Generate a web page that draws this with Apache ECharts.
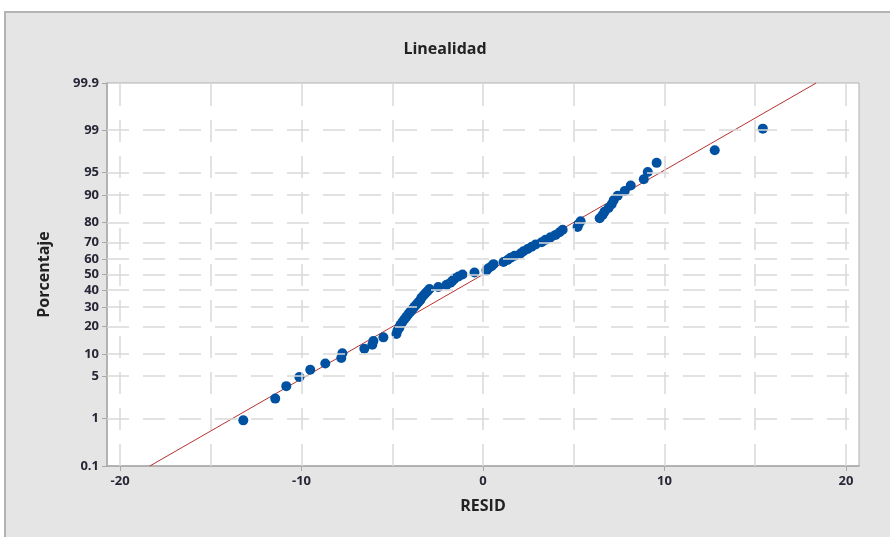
<!DOCTYPE html>
<html><head><meta charset="utf-8">
<script src="https://cdn.jsdelivr.net/npm/echarts@6/dist/echarts.min.js"></script>
<style>html,body{margin:0;padding:0;background:#fff}#c{width:890px;height:537px}</style>
</head><body><div id="c"></div>
<script>
// Residuals (sorted)
const resid = [-13.21,-11.45,-10.84,-10.12,-9.52,-8.69,-7.81,-7.75,-6.54,-6.10,
  -6.04,-5.49,-4.77,-4.72,-4.61,-4.55,-4.44,-4.33,-4.22,-4.11,
  -4.00,-3.89,-3.78,-3.67,-3.56,-3.45,-3.39,-3.28,-3.17,-3.06,
  -2.95,-2.46,-2.01,-1.79,-1.68,-1.57,-1.35,-1.13,-0.47,0.19,
  0.30,0.47,0.58,1.13,1.35,1.52,1.74,2.07,2.23,2.46,
  2.68,2.90,3.23,3.45,3.72,4.00,4.22,4.39,5.21,5.27,
  5.38,6.43,6.59,6.70,6.92,7.09,7.20,7.42,7.81,8.14,
  8.86,9.08,9.57,12.77,15.42];
// Percentages (plotting positions) of each point
const percent = [0.93,2.26,3.58,4.91,6.23,7.56,8.89,10.21,11.54,12.86,
  14.19,15.52,16.84,18.17,19.50,20.82,22.15,23.47,24.80,26.13,
  27.45,28.78,30.11,31.43,32.76,34.08,35.41,36.74,38.06,39.39,
  40.72,42.04,43.37,44.69,46.02,47.35,48.67,50.00,51.33,52.65,
  53.98,55.31,56.63,57.96,59.28,60.61,61.94,63.26,64.59,65.92,
  67.24,68.57,69.89,71.22,72.55,73.87,75.20,76.53,77.85,79.18,
  80.50,81.83,83.16,84.48,85.81,87.14,88.46,89.79,91.11,92.44,
  93.77,95.09,96.42,97.75,99.07];
const yTickLabels = [0.1,1,5,10,20,30,40,50,60,70,80,90,95,99,99.9];
const yGridPercents = [1,5,10,20,30,40,50,60,70,80,90,95,99];
const xTickLabels = [-20,-10,0,10,20];
const xGridValues = [-20,-15,-10,-5,0,5,10,15,20];
const fitResid = [-18.36, 18.36];
const fitPercent = [0.1, 99.9];

// probability scale: percent -> normal quantile
function probit(pct){
  const p = pct/100;
  const a=[-3.969683028665376e+01,2.209460984245205e+02,-2.759285104469687e+02,1.383577518672690e+02,-3.066479806614716e+01,2.506628277459239e+00];
  const b=[-5.447609879822406e+01,1.615858368580409e+02,-1.556989798598866e+02,6.680131188771972e+01,-1.328068155288572e+01];
  const c=[-7.784894002430293e-03,-3.223964580411365e-01,-2.400758277161838e+00,-2.549732539343734e+00,4.374664141464968e+00,2.938163982698783e+00];
  const d=[7.784695709041462e-03,3.224671290700398e-01,2.445134137142996e+00,3.754408661907416e+00];
  const pl=0.02425, ph=1-pl; let q,r;
  if(p<pl){q=Math.sqrt(-2*Math.log(p));return (((((c[0]*q+c[1])*q+c[2])*q+c[3])*q+c[4])*q+c[5])/((((d[0]*q+d[1])*q+d[2])*q+d[3])*q+1);}
  if(p<=ph){q=p-0.5;r=q*q;return (((((a[0]*r+a[1])*r+a[2])*r+a[3])*r+a[4])*r+a[5])*q/(((((b[0]*r+b[1])*r+b[2])*r+b[3])*r+b[4])*r+1);}
  q=Math.sqrt(-2*Math.log(1-p));return -(((((c[0]*q+c[1])*q+c[2])*q+c[3])*q+c[4])*q+c[5])/((((d[0]*q+d[1])*q+d[2])*q+d[3])*q+1);
}
const yTickZ = yTickLabels.map(probit);
function yLabel(v){
  let best=0,bd=1e9;
  yTickZ.forEach((z,i)=>{const dd=Math.abs(z-v); if(dd<bd){bd=dd;best=i;}});
  return String(yTickLabels[best]);
}
const zMin = probit(0.1), zMax = probit(99.9);
const font = '"Open Sans", "Noto Sans", sans-serif';
const labColor = '#262636';

const chart = echarts.init(document.getElementById('c'), null, {renderer:'canvas'});
chart.setOption({
  animation:false,
  backgroundColor:'#ffffff',
  graphic:[{type:'rect', z:-10, silent:true,
    shape:{x:5,y:12,width:900,height:540},
    style:{fill:'#e5e5e5', stroke:'#b3b3b3', lineWidth:2}}],
  title:{text:'Linealidad', left:'center', top:36,
    textStyle:{fontFamily:font, fontSize:16, fontWeight:'bold', color:'#222'}},
  grid:{left:107, right:31, top:83, bottom:71, show:true, backgroundColor:'#ffffff', borderColor:'#b0b0b0', borderWidth:1},
  xAxis:{type:'value', min:-20.72, max:20.72,
    name:'RESID', nameLocation:'middle', nameGap:32,
    nameTextStyle:{fontFamily:font, fontSize:16, fontWeight:'bold', color:'#222'},
    axisLine:{onZero:false, lineStyle:{color:'#a8a8a8', width:1.5}},
    axisTick:{customValues:xTickLabels, length:5, lineStyle:{color:'#a8a8a8'}},
    axisLabel:{customValues:xTickLabels, margin:9, fontFamily:font, fontSize:13, fontWeight:'bold', color:labColor},
    splitLine:{show:false}},
  yAxis:{type:'value', min:zMin, max:zMax,
    name:'Porcentaje', nameLocation:'middle', nameGap:55, nameRotate:90,
    nameTextStyle:{fontFamily:font, fontSize:16, fontWeight:'bold', color:'#222'},
    axisLine:{onZero:false, lineStyle:{color:'#a8a8a8', width:1.5}},
    axisTick:{customValues:yTickZ, length:5, lineStyle:{color:'#a8a8a8'}},
    axisLabel:{customValues:yTickZ, margin:8, formatter:yLabel, fontFamily:font, fontSize:13, fontWeight:'bold', color:labColor},
    splitLine:{show:false}},
  series:[
    {type:'line', data:[], silent:true, z:1,
      markLine:{silent:true, symbol:'none', label:{show:false},
        lineStyle:{color:'#d9d9d9', type:[22,14], width:1.5},
        data: xGridValues.map(v=>({xAxis:v})).concat(yGridPercents.map(p=>({yAxis:probit(p)})))}},
    {type:'line', z:2, silent:true, symbol:'none',
      data: fitResid.map((x,i)=>[x, probit(fitPercent[i])]),
      lineStyle:{color:'#b8312f', width:1}},
    {type:'scatter', z:3, symbolSize:10,
      itemStyle:{color:'#0051a2', opacity:1},
      data: resid.map((x,i)=>[x, probit(percent[i])])}
  ]
});
</script></body></html>
